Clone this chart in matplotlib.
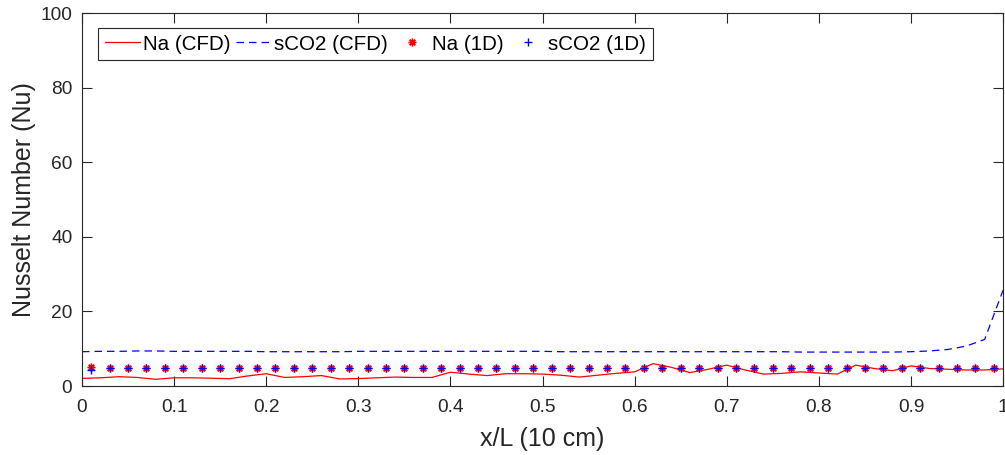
import numpy as np
import matplotlib
matplotlib.use("Agg")
import matplotlib.pyplot as plt

plt.rcParams['font.family'] = ['Liberation Sans', 'DejaVu Sans']

# CFD profiles sampled along the channel
x_cfd = [0.00, 0.02, 0.04, 0.06, 0.08, 0.10, 0.12, 0.14, 0.16, 0.18,
         0.20, 0.22, 0.24, 0.26, 0.28, 0.30, 0.32, 0.34, 0.36, 0.38,
         0.40, 0.42, 0.44, 0.46, 0.48, 0.50, 0.52, 0.54, 0.56, 0.58,
         0.60, 0.62, 0.64, 0.66, 0.68, 0.70, 0.72, 0.74, 0.76, 0.78,
         0.80, 0.82, 0.84, 0.86, 0.88, 0.90, 0.92, 0.94, 0.96, 0.98, 1.00]
na_cfd = [2.05, 2.2, 2.5, 2.3, 1.8, 2.2, 2.2, 2.1, 1.95, 2.7,
          3.3, 2.3, 2.5, 2.8, 1.9, 2.0, 2.2, 2.4, 2.3, 2.3,
          3.7, 3.2, 2.8, 3.3, 3.3, 3.2, 2.9, 2.4, 2.9, 3.4,
          3.8, 6.0, 5.0, 3.6, 4.5, 5.6, 4.3, 3.2, 3.4, 3.8,
          3.5, 3.2, 5.6, 4.7, 4.1, 5.4, 4.7, 4.5, 4.3, 4.3, 4.6]
sco2_cfd = [9.2, 9.3, 9.3, 9.4, 9.4, 9.3, 9.3, 9.3, 9.3, 9.3,
            9.2, 9.2, 9.2, 9.2, 9.2, 9.3, 9.3, 9.3, 9.3, 9.3,
            9.3, 9.3, 9.3, 9.3, 9.3, 9.3, 9.2, 9.2, 9.2, 9.2,
            9.2, 9.2, 9.2, 9.2, 9.2, 9.2, 9.2, 9.2, 9.2, 9.1,
            9.1, 9.1, 9.1, 9.1, 9.1, 9.2, 9.4, 9.8, 10.7, 12.5, 25.7]

# 1D model results at cell centres
x_1d = [0.01, 0.03, 0.05, 0.07, 0.09, 0.11, 0.13, 0.15, 0.17, 0.19,
        0.21, 0.23, 0.25, 0.27, 0.29, 0.31, 0.33, 0.35, 0.37, 0.39,
        0.41, 0.43, 0.45, 0.47, 0.49, 0.51, 0.53, 0.55, 0.57, 0.59,
        0.61, 0.63, 0.65, 0.67, 0.69, 0.71, 0.73, 0.75, 0.77, 0.79,
        0.81, 0.83, 0.85, 0.87, 0.89, 0.91, 0.93, 0.95, 0.97, 0.99]
na_1d = [5.0, 4.9, 4.9, 4.9, 4.9, 4.9, 4.9, 4.9, 4.9, 4.9,
         4.9, 4.9, 4.9, 4.9, 4.9, 4.9, 4.9, 4.9, 4.9, 4.9,
         4.9, 4.9, 4.9, 4.9, 4.9, 4.9, 4.9, 4.9, 4.9, 4.9,
         4.9, 4.9, 4.9, 4.9, 4.9, 4.9, 4.9, 4.9, 4.9, 4.9,
         4.9, 4.9, 4.9, 4.9, 4.9, 4.9, 4.9, 4.9, 4.9, 4.9]
sco2_1d = [4.4, 4.8, 4.8, 4.8, 4.8, 4.8, 4.8, 4.8, 4.8, 4.8,
           4.8, 4.8, 4.8, 4.8, 4.8, 4.8, 4.8, 4.8, 4.8, 4.8,
           4.8, 4.8, 4.8, 4.8, 4.8, 4.8, 4.8, 4.8, 4.8, 4.8,
           4.8, 4.8, 4.8, 4.8, 4.8, 4.8, 4.8, 4.8, 4.8, 4.8,
           4.8, 4.8, 4.8, 4.8, 4.8, 4.8, 4.8, 4.8, 4.8, 4.8]

xticks = [0, 0.1, 0.2, 0.3, 0.4, 0.5, 0.6, 0.7, 0.8, 0.9, 1]
xticklabels = ['0', '0.1', '0.2', '0.3', '0.4', '0.5', '0.6', '0.7', '0.8', '0.9', '1']
yticks = [0, 20, 40, 60, 80, 100]

axis_color = '#262626'

fig = plt.figure(figsize=(10.05, 4.55), dpi=100)
ax = fig.add_axes([0.0816, 0.1516, 0.9165, 0.8198])

ax.plot(x_cfd, na_cfd, color='red', lw=0.9, label='Na (CFD)')
ax.plot(x_cfd, sco2_cfd, color='blue', lw=0.9, ls=(0, (6, 4)), label='sCO2 (CFD)')
ax.plot(x_1d, na_1d, ls='none', marker=(8, 2, 0), ms=5.5, color='red',
        markeredgewidth=1.0, label='Na (1D)')
ax.plot(x_1d, sco2_1d, ls='none', marker='+', ms=5.5, color='blue',
        markeredgewidth=1.0, label='sCO2 (1D)')

ax.set_xlim(0, 1)
ax.set_ylim(0, 100)
ax.set_xticks(xticks)
ax.set_xticklabels(xticklabels)
ax.set_yticks(yticks)

for s in ax.spines.values():
    s.set_color(axis_color)
    s.set_linewidth(0.8)
ax.tick_params(direction='in', length=7, width=0.8, color=axis_color,
               labelcolor=axis_color, labelsize=13.8, top=True, right=True)
ax.tick_params(axis='x', pad=9)
ax.tick_params(axis='y', pad=7)

ax.set_xlabel('x/L (10 cm)', fontsize=18, color=axis_color, labelpad=8)
ax.set_ylabel('Nusselt Number (Nu)', fontsize=18, color=axis_color, labelpad=3)

leg = ax.legend(loc='upper left', ncol=4, fontsize=14.8, frameon=True, fancybox=False,
                edgecolor=axis_color, framealpha=1, borderpad=0.32, borderaxespad=0,
                handlelength=1.7, handletextpad=0.15, columnspacing=0.3,
                bbox_to_anchor=(0.0174, 0.96))
leg.get_frame().set_linewidth(0.8)

fig.savefig('out.png', dpi=100)
